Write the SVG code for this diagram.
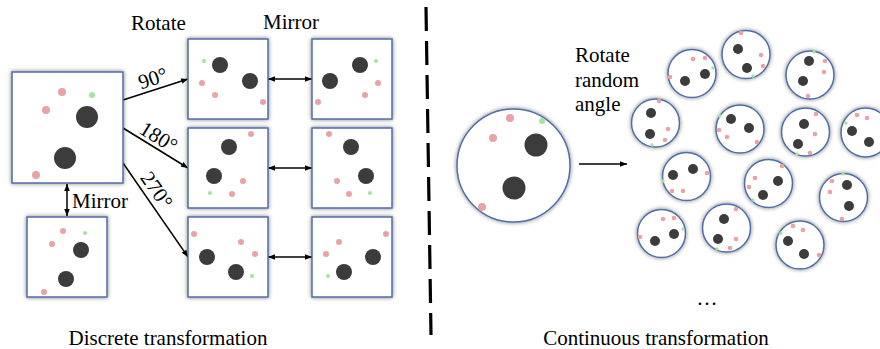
<svg xmlns="http://www.w3.org/2000/svg" width="880" height="349" viewBox="0 0 880 349">
<defs>
<filter id="sh" x="-20%" y="-20%" width="140%" height="140%">
<feGaussianBlur in="SourceAlpha" stdDeviation="2"/>
<feComponentTransfer><feFuncA type="linear" slope="0.5"/></feComponentTransfer>
<feMerge><feMergeNode/><feMergeNode in="SourceGraphic"/></feMerge>
</filter>
<marker id="ah" viewBox="0 0 10 10" refX="10" refY="5" markerWidth="7" markerHeight="7" markerUnits="userSpaceOnUse" orient="auto-start-reverse">
<path d="M0,1 L10,5 L0,9 Z" fill="#000"/>
</marker>
</defs>
<style>
.box{fill:#fff;stroke:#4f6ea8;stroke-width:1.5;filter:url(#sh)}
.d{fill:#3c3c3c}
.p{fill:#e9a3a7}
.g{fill:#a6e3a0}
.t{font-family:"Liberation Serif",serif;font-size:21px;fill:#000}
.c{stroke:#000;stroke-width:1.5;fill:none}
</style>

<g id="connectors">
<line class="c" x1="123" y1="100" x2="188" y2="79" marker-end="url(#ah)"/>
<line class="c" x1="123" y1="128" x2="188" y2="168" marker-end="url(#ah)"/>
<line class="c" x1="123" y1="163" x2="188" y2="257" marker-end="url(#ah)"/>
<line class="c" x1="268" y1="79" x2="312" y2="79" marker-start="url(#ah)" marker-end="url(#ah)"/>
<line class="c" x1="268" y1="168" x2="312" y2="168" marker-start="url(#ah)" marker-end="url(#ah)"/>
<line class="c" x1="268" y1="257" x2="312" y2="257" marker-start="url(#ah)" marker-end="url(#ah)"/>
<line class="c" x1="67" y1="184" x2="67" y2="216" marker-start="url(#ah)" marker-end="url(#ah)"/>
<line class="c" x1="579" y1="164" x2="627" y2="164" marker-end="url(#ah)"/>
<line x1="426" y1="7" x2="431" y2="335" stroke="#000" stroke-width="3.2" stroke-dasharray="24,10"/>
</g>

<g id="labels">
<text class="t" x="131" y="30">Rotate</text>
<text class="t" x="263" y="29">Mirror</text>
<text class="t" x="72" y="208">Mirror</text>
<text class="t" transform="translate(155,85) rotate(-18)" text-anchor="middle">90°</text>
<text class="t" transform="translate(155,143) rotate(32)" text-anchor="middle">180°</text>
<text class="t" transform="translate(151,194) rotate(55)" text-anchor="middle">270°</text>
<text class="t" x="168" y="345" text-anchor="middle">Discrete transformation</text>
<text class="t" x="656" y="345" text-anchor="middle">Continuous transformation</text>
<text class="t" x="575" y="62">Rotate</text>
<text class="t" x="575" y="87">random</text>
<text class="t" x="575" y="111">angle</text>
<text class="t" x="707" y="305" text-anchor="middle">…</text>
</g>

<g id="orig">
<rect class="box" x="12" y="72" width="111" height="111"/>
<circle class="p" cx="62" cy="92" r="4"/><circle class="g" cx="92" cy="95" r="3"/>
<circle class="p" cx="46" cy="110" r="4"/><circle class="d" cx="87" cy="117" r="11"/>
<circle class="d" cx="65" cy="158" r="11"/><circle class="p" cx="36" cy="175" r="4"/>
</g>

<g id="mirror0">
<rect class="box" x="27" y="217" width="80" height="80"/>
<circle class="p" cx="63" cy="231" r="3"/><circle class="g" cx="85" cy="233" r="2"/>
<circle class="p" cx="52" cy="244" r="3"/><circle class="d" cx="81" cy="250" r="8"/>
<circle class="d" cx="66" cy="279" r="8"/><circle class="p" cx="44" cy="292" r="3"/>
</g>

<g id="rot90">
<rect class="box" x="188" y="39" width="80" height="80"/>
<circle class="g" cx="204" cy="61" r="2"/><circle class="d" cx="220" cy="65" r="8"/>
<circle class="d" cx="250" cy="81" r="8"/><circle class="p" cx="202" cy="83" r="3"/>
<circle class="p" cx="215" cy="95" r="3"/><circle class="p" cx="263" cy="102" r="3"/>
</g>
<g id="mir90">
<rect class="box" x="312" y="39" width="80" height="80"/>
<circle class="g" cx="376" cy="61" r="2"/><circle class="d" cx="360" cy="65" r="8"/>
<circle class="d" cx="330" cy="81" r="8"/><circle class="p" cx="378" cy="83" r="3"/>
<circle class="p" cx="365" cy="95" r="3"/><circle class="p" cx="318" cy="102" r="3"/>
</g>

<g id="rot180">
<rect class="box" x="188" y="128" width="80" height="80"/>
<circle class="p" cx="251" cy="134" r="3"/><circle class="d" cx="229" cy="147" r="8"/>
<circle class="d" cx="214" cy="176" r="8"/><circle class="p" cx="243" cy="181" r="3"/>
<circle class="g" cx="210" cy="193" r="2"/><circle class="p" cx="232" cy="194" r="3"/>
</g>
<g id="mir180">
<rect class="box" x="312" y="128" width="80" height="80"/>
<circle class="p" cx="329" cy="134" r="3"/><circle class="d" cx="351" cy="147" r="8"/>
<circle class="d" cx="366" cy="176" r="8"/><circle class="p" cx="337" cy="181" r="3"/>
<circle class="g" cx="370" cy="193" r="2"/><circle class="p" cx="349" cy="194" r="3"/>
</g>

<g id="rot270">
<rect class="box" x="188" y="217" width="80" height="80"/>
<circle class="p" cx="194" cy="234" r="3"/><circle class="p" cx="241" cy="242" r="3"/>
<circle class="p" cx="255" cy="254" r="3"/><circle class="d" cx="207" cy="257" r="8"/>
<circle class="d" cx="236" cy="272" r="8"/><circle class="g" cx="252" cy="276" r="2"/>
</g>
<g id="mir270">
<rect class="box" x="312" y="217" width="80" height="80"/>
<circle class="p" cx="386" cy="234" r="3"/><circle class="p" cx="339" cy="242" r="3"/>
<circle class="p" cx="326" cy="254" r="3"/><circle class="d" cx="373" cy="257" r="8"/>
<circle class="d" cx="344" cy="272" r="8"/><circle class="g" cx="328" cy="276" r="2"/>
</g>

<g id="bigcircle">
<circle class="box" cx="513.5" cy="165.5" r="56.5"/>
<circle class="p" cx="510" cy="118" r="4"/><circle class="g" cx="542" cy="121" r="3"/>
<circle class="p" cx="493" cy="138" r="4"/><circle class="d" cx="536" cy="145" r="11.5"/>
<circle class="d" cx="514" cy="188" r="11.5"/><circle class="p" cx="482" cy="207" r="4"/>
</g>

<g id="c1"><circle class="box" cx="692" cy="73.5" r="24"/>
<circle class="p" cx="693" cy="59" r="2.3"/><circle class="p" cx="705" cy="58" r="2.3"/><circle class="g" cx="713" cy="68" r="1.7"/>
<circle class="p" cx="670" cy="77" r="2.3"/><circle class="d" cx="685" cy="81" r="5"/><circle class="d" cx="705" cy="74" r="5"/></g>
<g id="c2"><circle class="box" cx="746" cy="54.5" r="24"/>
<circle class="p" cx="741" cy="33" r="2.3"/><circle class="d" cx="738" cy="49" r="5"/><circle class="p" cx="761" cy="55" r="2.3"/>
<circle class="p" cx="763" cy="66" r="2.3"/><circle class="d" cx="747" cy="68" r="5"/><circle class="g" cx="753" cy="76" r="1.7"/></g>
<g id="c3"><circle class="box" cx="810" cy="75" r="24"/>
<circle class="g" cx="814" cy="52" r="1.7"/><circle class="d" cx="809" cy="61" r="5"/><circle class="p" cx="825" cy="61" r="2.3"/>
<circle class="p" cx="824" cy="72" r="2.3"/><circle class="d" cx="803" cy="81" r="5"/><circle class="p" cx="808" cy="96" r="2.3"/></g>
<g id="c4"><circle class="box" cx="655.5" cy="123" r="24"/>
<circle class="p" cx="659" cy="101" r="2.3"/><circle class="d" cx="651" cy="113" r="5"/><circle class="p" cx="668" cy="129" r="2.3"/>
<circle class="d" cx="650" cy="134" r="5"/><circle class="p" cx="665" cy="140" r="2.3"/><circle class="g" cx="652" cy="145" r="1.7"/></g>
<g id="c5"><circle class="box" cx="740" cy="129" r="24"/>
<circle class="g" cx="720" cy="116" r="1.7"/><circle class="d" cx="731" cy="119" r="5"/><circle class="p" cx="719" cy="130" r="2.3"/>
<circle class="d" cx="749" cy="128" r="5"/><circle class="p" cx="727" cy="137" r="2.3"/><circle class="p" cx="757" cy="142" r="2.3"/></g>
<g id="c6"><circle class="box" cx="805.5" cy="132" r="24"/>
<circle class="p" cx="816" cy="114" r="2.3"/><circle class="d" cx="804" cy="124" r="5"/><circle class="p" cx="815" cy="134" r="2.3"/>
<circle class="d" cx="798" cy="144" r="5"/><circle class="p" cx="810" cy="153" r="2.3"/><circle class="g" cx="797" cy="154" r="1.7"/></g>
<g id="c7"><circle class="box" cx="865.5" cy="132.5" r="24.5"/>
<circle class="p" cx="857" cy="115" r="2.3"/><circle class="p" cx="867" cy="118" r="2.3"/><circle class="g" cx="846" cy="123" r="1.7"/>
<circle class="d" cx="852" cy="131" r="5"/><circle class="d" cx="869" cy="142" r="5"/></g>
<g id="c8"><circle class="box" cx="686.5" cy="176.5" r="24"/>
<circle class="d" cx="693" cy="169" r="5"/><circle class="p" cx="707" cy="173" r="2.3"/><circle class="d" cx="673" cy="175" r="5"/>
<circle class="g" cx="663" cy="181" r="1.7"/><circle class="p" cx="672" cy="191" r="2.3"/><circle class="p" cx="683" cy="191" r="2.3"/></g>
<g id="c9"><circle class="box" cx="768.5" cy="183.5" r="24"/>
<circle class="p" cx="782" cy="166" r="2.3"/><circle class="p" cx="755" cy="178" r="2.3"/><circle class="d" cx="778" cy="181" r="5"/>
<circle class="p" cx="749" cy="187" r="2.3"/><circle class="d" cx="763" cy="195" r="5"/><circle class="g" cx="753" cy="200" r="1.7"/></g>
<g id="c10"><circle class="box" cx="843.5" cy="197.5" r="24"/>
<circle class="g" cx="843" cy="174" r="1.7"/><circle class="p" cx="832" cy="181" r="2.3"/><circle class="d" cx="847" cy="185" r="5"/>
<circle class="p" cx="830" cy="192" r="2.3"/><circle class="d" cx="849" cy="206" r="5"/><circle class="p" cx="842" cy="219" r="2.3"/></g>
<g id="c11"><circle class="box" cx="661.5" cy="233.5" r="24"/>
<circle class="p" cx="663" cy="219" r="2.3"/><circle class="p" cx="674" cy="218" r="2.3"/><circle class="g" cx="683" cy="229" r="1.7"/>
<circle class="d" cx="674" cy="234" r="5"/><circle class="p" cx="640" cy="237" r="2.3"/><circle class="d" cx="655" cy="241" r="5"/></g>
<g id="c12"><circle class="box" cx="726.5" cy="228" r="24"/>
<circle class="p" cx="736" cy="209" r="2.3"/><circle class="d" cx="724" cy="219" r="5"/><circle class="d" cx="718" cy="239" r="5"/>
<circle class="p" cx="736" cy="239" r="2.3"/><circle class="p" cx="730" cy="248" r="2.3"/><circle class="g" cx="717" cy="249" r="1.7"/></g>
<g id="c13"><circle class="box" cx="800" cy="245" r="24"/>
<circle class="p" cx="793" cy="226" r="2.3"/><circle class="p" cx="803" cy="230" r="2.3"/><circle class="g" cx="781" cy="233" r="1.7"/>
<circle class="d" cx="788" cy="241" r="5"/><circle class="d" cx="804" cy="254" r="5"/><circle class="p" cx="819" cy="255" r="2.3"/></g>
</svg>
